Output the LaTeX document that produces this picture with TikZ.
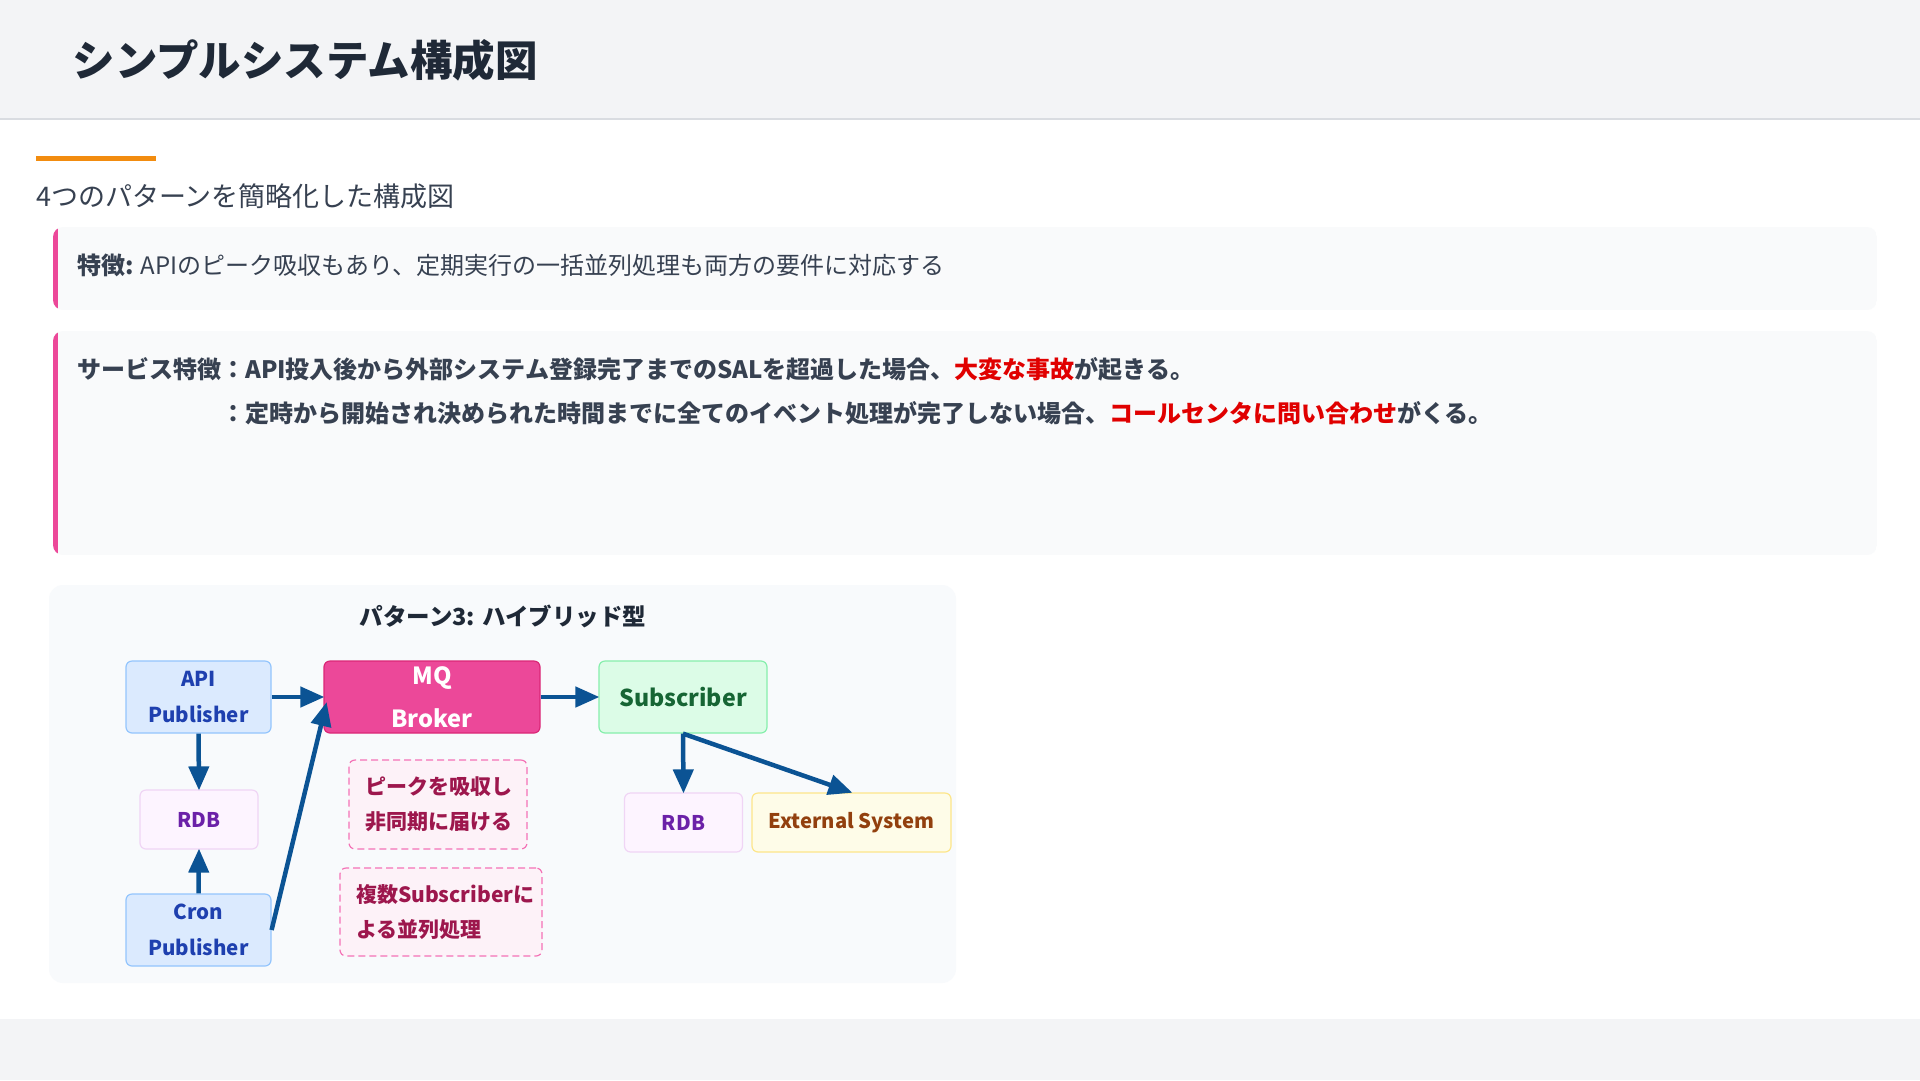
\documentclass[tikz,border=0pt]{standalone}
\usepackage{fontspec}
\setmainfont{Noto Sans CJK JP}
\usetikzlibrary{arrows.meta,positioning}

\definecolor{headbg}{HTML}{F3F4F6}
\definecolor{headline}{HTML}{D9DCE1}
\definecolor{titletxt}{HTML}{1F2937}
\definecolor{subtxt}{HTML}{374151}
\definecolor{accent}{HTML}{F28C0F}
\definecolor{cardbg}{HTML}{F9FAFB}
\definecolor{cardbar}{HTML}{EC4899}
\definecolor{alert}{HTML}{E00000}
\definecolor{panelbg}{HTML}{F8FAFC}
\definecolor{flowc}{HTML}{0B5394}
\definecolor{pubfill}{HTML}{DBEAFE}
\definecolor{pubdraw}{HTML}{93C5FD}
\definecolor{pubtxt}{HTML}{1E40AF}
\definecolor{mqfill}{HTML}{EC4899}
\definecolor{mqdraw}{HTML}{DB2777}
\definecolor{subfill}{HTML}{DCFCE7}
\definecolor{subdraw}{HTML}{86EFAC}
\definecolor{subtx}{HTML}{166534}
\definecolor{dbfill}{HTML}{FDF4FF}
\definecolor{dbdraw}{HTML}{F0D5F5}
\definecolor{dbtxt}{HTML}{6B21A8}
\definecolor{extfill}{HTML}{FEFCE8}
\definecolor{extdraw}{HTML}{FDE68A}
\definecolor{exttxt}{HTML}{92400E}
\definecolor{notefill}{HTML}{FDF2F8}
\definecolor{notedraw}{HTML}{F472B6}
\definecolor{notetxt}{HTML}{9D174D}

\begin{document}
\begin{tikzpicture}[x=1pt,y=-1pt,line join=round,
  box/.style={rounded corners=6pt,line width=1.2pt,inner sep=0pt,align=center},
  pubbox/.style={box,draw=pubdraw,fill=pubfill,text=pubtxt,
    minimum width=145pt,minimum height=72pt,font=\bfseries\fontsize{20.5}{36}\selectfont},
  mqbox/.style={box,draw=mqdraw,fill=mqfill,text=white,
    minimum width=216pt,minimum height=72pt,font=\bfseries\fontsize{23.6}{43}\selectfont},
  subbox/.style={box,draw=subdraw,fill=subfill,text=subtx,
    minimum width=168pt,minimum height=72pt,font=\bfseries\fontsize{23.2}{28}\selectfont},
  dbbox/.style={box,draw=dbdraw,fill=dbfill,text=dbtxt,
    minimum width=118pt,minimum height=59pt,font=\bfseries\fontsize{20.2}{25}\selectfont},
  extbox/.style={box,draw=extdraw,fill=extfill,text=exttxt,
    minimum width=199pt,minimum height=59pt,font=\bfseries\fontsize{20.2}{25}\selectfont},
  notebox/.style={box,draw=notedraw,fill=notefill,text=notetxt,dashed,dash pattern=on 7pt off 4pt,
    align=left,inner xsep=16pt,font=\bfseries\fontsize{21}{35}\selectfont},
  flow/.style={-{Triangle[length=24pt,width=20pt]},line width=4.5pt,draw=flowc,shorten >=-1pt}]

\useasboundingbox (0,0) rectangle (1920,1080);

% -----------------------
% Page background
% -----------------------
\fill[white] (0,0) rectangle (1920,1080);
\fill[headbg] (0,0) rectangle (1920,119);
\draw[headline,line width=1.5pt] (0,119) -- (1920,119);
\fill[headbg] (0,1019) rectangle (1920,1080);

\node[anchor=west,text=titletxt,font=\bfseries\fontsize{42.5}{50}\selectfont] (title) at (69,60) {シンプルシステム構成図};

\fill[accent] (36,156) rectangle (156,161);
\node[anchor=west,text=subtxt,font=\fontsize{27}{32}\selectfont,inner sep=0pt] (subtitle) at (36,196) {4つのパターンを簡略化した構成図};

% -----------------------
% Cards
% -----------------------
\def\cL{53}  % card left
\def\cR{1877} % card right

\begin{scope}
  \clip[rounded corners=10pt] (\cL,227) rectangle (\cR,310);
  \fill[cardbg] (\cL,227) rectangle (\cR,310);
  \fill[cardbar] (\cL,227) rectangle (\cL+5,310);
\end{scope}
\node[anchor=west,inner sep=0pt,text=subtxt,font=\fontsize{24}{29}\selectfont] (feat) at (77,265)
  {\textbf{特徴:} APIのピーク吸収もあり、定期実行の一括並列処理も両方の要件に対応する};

\begin{scope}
  \clip[rounded corners=10pt] (\cL,331) rectangle (\cR,555);
  \fill[cardbg] (\cL,331) rectangle (\cR,555);
  \fill[cardbar] (\cL,331) rectangle (\cL+5,555);
\end{scope}
\node[anchor=west,inner sep=0pt,text=subtxt,font=\bfseries\fontsize{24}{29}\selectfont] (svc1) at (77,369)
  {サービス特徴：API投入後から外部システム登録完了までのSALを超過した場合、\textcolor{alert}{大変な事故}が起きる。};
\node[anchor=west,inner sep=0pt,text=subtxt,font=\bfseries\fontsize{24}{29}\selectfont] (svc2) at (77,413)
  {\phantom{サービス特徴}：定時から開始され決められた時間までに全てのイベント処理が完了しない場合、\textcolor{alert}{コールセンタに問い合わせ}がくる。};

% -----------------------
% Pattern 3 panel
% -----------------------
\fill[panelbg,rounded corners=14pt] (49,585) rectangle (956,983);
\node[text=titletxt,font=\bfseries\fontsize{23.5}{28}\selectfont] (ptitle) at (503,616) {パターン3: ハイブリッド型};

\node[pubbox] (api)  at (198.5,697) {API\\Publisher};
\node[mqbox]  (mq)   at (432,697)   {MQ\\Broker};
\node[subbox] (sub)  at (683,697)   {Subscriber};
\node[dbbox]  (rdbA) at (199,819.5) {RDB};
\node[pubbox] (cron) at (198.5,930) {Cron\\Publisher};
\node[dbbox]  (rdbB) at (683.5,822.5) {RDB};
\node[extbox] (ext)  at (851.5,822.5) {External System};

\node[notebox,text width=146pt,minimum height=89pt] (peak) at (438,804.5) {ピークを吸収し\\非同期に届ける};
\node[notebox,text width=170pt,minimum height=88pt] (para) at (441,912) {複数Subscriberに\\よる並列処理};

% arrows
\draw[flow] (api.east) -- (mq.west);
\draw[flow] (api.south) -- (rdbA.north);
\draw[flow] (cron.north) -- (rdbA.south);
\draw[flow] (cron.east) -- ([xshift=3pt,yshift=-6pt]mq.west);
\draw[flow] (mq.east) -- (sub.west);
\draw[flow] (sub.south) -- (rdbB.north);
\draw[flow] (sub.south) -- (ext.north);

\end{tikzpicture}
\end{document}
